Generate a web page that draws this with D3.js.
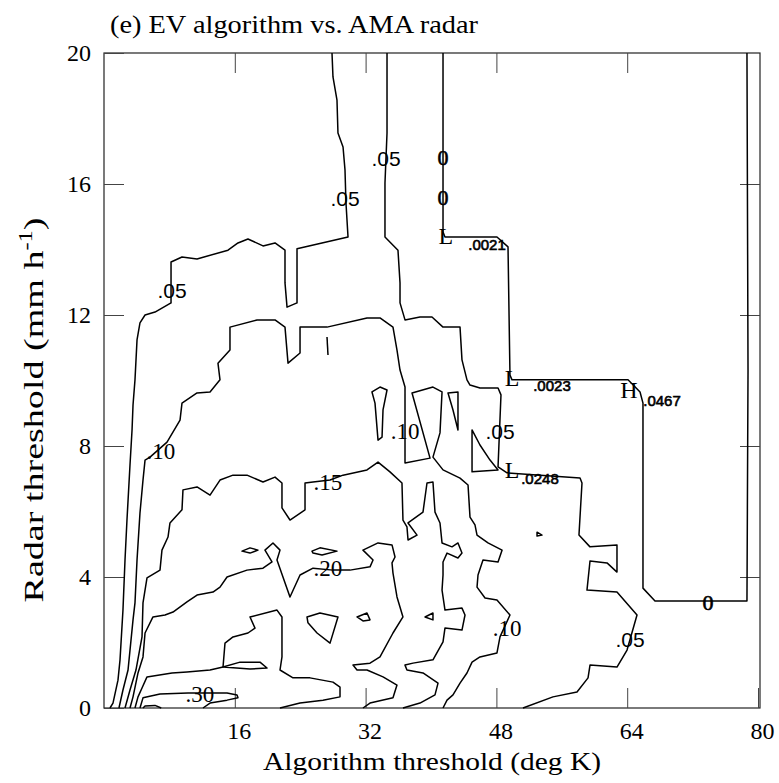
<!DOCTYPE html>
<html>
<head>
<meta charset="utf-8">
<script src="https://cdn.jsdelivr.net/npm/d3@7"></script>
<style>
  body { margin: 0; background: #fff; }
  text { fill: #000; }
  .serif { font-family: "Liberation Serif", "Times New Roman", serif; }
  .sans { font-family: "Liberation Sans", Arial, sans-serif; }
</style>
</head>
<body>
<svg id="chart" width="779" height="783"></svg>
<script>
// axis values
const xTicks = [16, 32, 48, 64, 80];
const yTicks = [0, 4, 8, 12, 16, 20];

// contour lines as [algorithm threshold, radar threshold]
const level0 = [[41.47,20],[41.47,14.53],[41.71,14.38],[48.07,14.38],[49.42,14.08],[49.66,10.17],[49.91,10.02],[64.10,10.02],[65.57,9.65],[65.93,9.31],[65.93,3.66],[67.40,3.27],[78.65,3.27],[78.78,10.32],[78.65,20]];
const level05a = [[0.73,0],[1.10,0.15],[1.71,0.85],[1.96,1.47],[2.32,2.99],[2.57,4.52],[2.81,5.74],[3.18,7.42],[3.43,8.49],[3.55,9.25],[3.79,10.02],[4.04,11.24],[4.40,11.76],[5.02,12.00],[6.24,12.09],[8.20,12.37],[8.20,13.62],[9.54,13.77],[11.38,13.71],[15.17,13.98],[16.39,14.20],[17.61,14.32],[19.45,14.11],[20.92,14.20],[22.14,13.98],[22.14,12.98],[22.39,12.24],[23.61,12.37],[23.61,14.02],[29.85,14.38],[29.60,15.42],[29.48,16.43],[29.24,17.13],[28.62,17.56],[28.50,18.56],[28.01,19.27],[27.89,20]];
const level05b = [[34.62,20],[34.62,17.56],[34.37,16.03],[34.37,14.38],[35.96,13.98],[36.21,12.98],[36.21,12.37],[36.82,11.85],[38.65,11.94],[40.12,11.94],[41.47,11.63],[43.55,11.63],[43.79,10.63],[44.40,10.02],[44.77,9.86],[45.99,9.77],[48.20,9.77],[48.56,9.56],[48.20,7.36],[49.30,7.18],[58.23,7.02],[58.47,6.87],[58.10,5.28],[59.45,4.92],[62.75,4.98],[62.75,4.15],[61.53,4.43],[59.45,4.49],[59.08,3.60],[62.75,3.54],[65.20,2.84],[63.98,1.77],[62.75,1.25],[59.45,1.31],[59.21,0.92],[57.86,0.49],[54.92,0.34],[51.25,0]];
const level10 = [[1.83,0],[2.32,0.55],[2.94,1.16],[3.55,2.69],[3.79,3.21],[4.04,4.52],[4.40,5.95],[4.77,6.96],[5.02,7.57],[5.63,7.66],[7.71,8.12],[9.30,8.79],[9.54,9.31],[11.38,9.62],[12.97,9.65],[14.19,10.02],[13.94,10.53],[15.41,10.93],[15.41,11.63],[18.72,11.85],[20.92,11.85],[22.14,11.63],[22.51,10.53],[23.98,10.84],[23.98,11.63],[27.28,11.63],[32.17,11.91],[33.76,11.91],[35.35,11.63],[35.84,10.93],[36.21,10.32],[36.82,9.80],[36.82,7.48],[39.88,7.63],[37.68,9.62],[40.24,9.80],[41.35,9.65],[41.10,8.40],[40.24,7.66],[41.47,7.27],[43.55,7.02],[44.53,6.81],[44.77,5.83],[45.38,5.59],[45.63,5.28],[46.97,5.04],[48.69,4.82],[48.20,4.46],[46.36,4.52],[45.75,4.06],[45.63,3.69],[46.61,3.36],[48.07,3.30],[49.66,2.84],[48.44,2.17],[48.07,1.68],[45.99,1.56],[45.02,1.40],[44.40,1.07],[43.55,0.76],[42.69,0.40],[41.96,0.24],[41.47,0]];
const level15 = [[2.57,0],[3.18,0.55],[3.91,1.16],[4.65,2.17],[4.77,3.21],[5.26,3.97],[6.85,4.21],[7.09,4.82],[7.83,5.22],[8.07,5.65],[9.54,6.05],[9.66,6.66],[11.38,6.75],[12.97,6.50],[14.19,6.96],[15.78,7.11],[17.49,7.11],[19.45,6.90],[20.92,7.05],[21.77,6.87],[21.77,6.11],[22.75,5.74],[24.59,6.05],[24.59,6.87],[25.57,6.90],[27.65,6.96],[29.24,7.11],[32.17,7.27],[33.52,7.51],[34.98,7.21],[36.45,6.87],[36.57,5.74],[37.06,5.53],[37.19,5.13],[38.29,5.28],[37.19,5.65],[39.02,5.98],[39.51,6.87],[40.24,6.90],[40.49,5.98],[41.10,5.65],[41.35,5.04],[42.57,4.92],[43.30,5.04],[43.79,4.73],[43.30,4.58],[41.96,4.73],[41.47,4.46],[41.47,4.06],[41.35,3.60],[41.71,2.99],[43.79,3.05],[44.16,2.84],[43.79,2.38],[41.71,2.44],[41.47,2.02],[40.24,1.47],[37.80,1.37],[36.82,1.31],[37.06,1.16],[39.02,1.07],[40.86,0.76],[40.49,0.40],[38.65,0.15],[36.57,0]];
const level20 = [[3.18,0],[3.55,0.34],[4.16,1.07],[4.77,1.56],[5.02,2.29],[5.99,2.78],[7.46,2.84],[8.44,2.93],[10.15,3.24],[11.38,3.45],[13.33,3.54],[14.19,3.69],[15.05,4.00],[17.49,4.21],[19.45,4.27],[20.55,4.46],[19.69,4.82],[20.67,5.04],[21.53,4.82],[21.16,4.52],[22.75,3.39],[23.98,4.06],[25.57,4.27],[28.01,4.21],[30.09,4.21],[32.54,4.31],[32.91,4.52],[31.68,4.82],[33.52,5.04],[35.23,4.98],[35.60,4.61],[35.23,4.43],[35.35,4.12],[35.84,3.39],[36.57,2.78],[35.35,2.29],[33.76,1.56],[32.54,1.37],[30.46,1.31],[30.95,1.16],[32.17,1.16],[34.13,0.95],[35.84,0.70],[35.35,0.31],[32.54,0.15],[31.68,0]];
const level25 = [[3.79,0],[4.16,0.34],[4.65,0.61],[5.26,0.95],[8.32,1.07],[10.15,1.10],[12.97,1.16],[14.56,1.25],[14.80,1.98],[15.78,2.17],[17.61,2.29],[18.47,2.44],[17.86,2.78],[21.16,2.99],[21.77,2.78],[21.77,1.56],[21.53,1.16],[23.12,0.92],[25.20,0.92],[28.01,0.79],[28.87,0.64],[28.87,0.34],[26.79,0.24],[23.98,0.15],[21.53,0]];
const level30 = [[4.40,0],[4.77,0.31],[6.85,0.43],[10.28,0.46],[13.33,0.46],[15.05,0.46],[16.27,0.40],[16.39,0.31],[15.05,0.24],[12.97,0.15],[12.11,0]];
const level35 = [[4.77,0],[5.02,0.06],[6.24,0.08],[7.00,0]];
const tickMark = [[27.28,11.33],[27.40,10.78]];

// small closed contours
const triangle05 = [[45.02,8.49],[45.99,8.03],[47.22,7.57],[48.20,7.27],[45.02,7.21]];
const lens25 = [[14.56,1.25],[16.64,1.40],[19.08,1.40],[19.94,1.22],[17.86,1.19]];
const island1 = [[16.88,4.79],[17.86,4.89],[18.84,4.82],[17.86,4.73]];
const island2 = [[25.44,4.79],[26.42,4.89],[28.50,4.79],[26.67,4.67],[25.57,4.73]];
const island3 = [[24.83,2.78],[26.42,2.90],[28.62,2.78],[27.65,1.98],[26.06,2.29],[24.95,2.60]];
const island4 = [[30.95,2.78],[32.17,2.90],[32.54,2.69],[31.68,2.66]];
const island5 = [[39.27,2.78],[40.24,2.90],[40.24,2.69]];
const island6 = [[32.78,9.65],[33.76,9.80],[34.62,9.71],[34.13,9.10],[34.01,8.27],[33.52,8.18],[33.15,9.31]];
const island7 = [[42.08,9.62],[43.30,9.65],[43.30,8.49],[42.69,9.10]];
const island8 = [[52.97,5.37],[53.58,5.28],[52.97,5.25]];

// contour labels [x, y, text]
const sansLabels = [[34.50,16.79,".05"],[29.48,15.57,".05"],[8.32,12.76,".05"],[48.44,8.43,".05"],[64.34,2.08,".05"]];
const serifLabels = [[6.97,7.82,".10"],[36.82,8.43,".10"],[49.30,2.44,".10"],[27.40,6.90,".15"],[27.40,4.27,".20"],[11.74,0.40,".30"]];
const zeroLabels = [[41.47,16.82,"0"],[41.47,15.60,"0"],[73.88,3.21,"0"]];
const extremaLetters = [[41.83,14.41,"L"],[49.91,10.08,"L"],[64.22,9.71,"H"],[49.91,7.27,"L"]];
const extremaValues = [[46.85,14.14,".0021"],[54.80,9.86,".0023"],[68.26,9.40,".0467"],[53.33,7.02,".0248"]];

const openLines = [level0, level05a, level05b, level10, level15, level20, level25, level30, level35, tickMark];
const closedLines = [triangle05, lens25, island1, island2, island3, island4, island5, island6, island7, island8];

const svg = d3.select("#chart");

const x = d3.scaleLinear().domain([0, 80]).range([104, 758]);
const y = d3.scaleLinear().domain([0, 20]).range([708, 53]);

// title
svg.append("text")
    .attr("class", "serif")
    .attr("x", 110)
    .attr("y", 33)
    .attr("font-size", 25)
    .attr("textLength", 368)
    .attr("lengthAdjust", "spacingAndGlyphs")
    .text("(e) EV algorithm vs. AMA radar");

// frame
svg.append("rect")
    .attr("x", 104).attr("y", 53)
    .attr("width", 656).attr("height", 655)
    .attr("fill", "none")
    .attr("stroke", "#222")
    .attr("stroke-width", 1.2);

// axes with inward ticks
const styleAxis = g => {
    g.select(".domain").remove();
    g.selectAll(".tick line").attr("stroke", "#444").attr("stroke-width", 1);
    g.selectAll(".tick text")
        .attr("class", "serif")
        .attr("font-size", 24);
};

svg.append("g")
    .attr("transform", "translate(0,708)")
    .call(d3.axisBottom(x).tickValues(xTicks).tickSize(-20).tickPadding(14).tickFormat(d3.format("d")))
    .call(styleAxis)
    .selectAll(".tick text").attr("dx", 4);

svg.append("g")
    .attr("transform", "translate(0,53)")
    .call(d3.axisTop(x).tickValues(xTicks.slice(0, 4)).tickSize(-20).tickFormat(""))
    .call(styleAxis);

svg.append("g")
    .attr("transform", "translate(104,0)")
    .call(d3.axisLeft(y).tickValues(yTicks).tickSize(-20).tickPadding(13).tickFormat(d3.format("d")))
    .call(styleAxis);

svg.append("g")
    .attr("transform", "translate(760,0)")
    .call(d3.axisRight(y).tickValues(yTicks.slice(1, 5)).tickSize(-20).tickFormat(""))
    .call(styleAxis);

// axis titles
svg.append("text")
    .attr("class", "serif")
    .attr("x", 432)
    .attr("y", 770)
    .attr("text-anchor", "middle")
    .attr("font-size", 26)
    .attr("textLength", 338)
    .attr("lengthAdjust", "spacingAndGlyphs")
    .text("Algorithm threshold (deg K)");

const yTitle = svg.append("text")
    .attr("class", "serif")
    .attr("transform", "translate(43,410) rotate(-90)")
    .attr("text-anchor", "middle")
    .attr("font-size", 28)
    .attr("textLength", 385)
    .attr("lengthAdjust", "spacingAndGlyphs");
yTitle.append("tspan").text("Radar threshold (mm h");
yTitle.append("tspan").attr("font-size", 18).attr("dy", -11).text("-1");
yTitle.append("tspan").attr("dy", 11).text(")");

// contour lines
const line = d3.line().x(d => x(d[0])).y(d => y(d[1]));
const closed = d3.line().x(d => x(d[0])).y(d => y(d[1])).curve(d3.curveLinearClosed);

const contours = svg.append("g")
    .attr("fill", "none")
    .attr("stroke", "#000")
    .attr("stroke-width", 1.5)
    .attr("stroke-linejoin", "round");

contours.selectAll("path.open")
    .data(openLines)
    .join("path")
    .attr("class", "open")
    .attr("d", line);

contours.selectAll("path.closed")
    .data(closedLines)
    .join("path")
    .attr("class", "closed")
    .attr("d", closed);

// labels
const addLabels = (data, cls, size, thick) => {
    svg.append("g").selectAll("text")
        .data(data)
        .join("text")
        .attr("class", cls)
        .attr("x", d => x(d[0]))
        .attr("y", d => y(d[1]))
        .attr("text-anchor", "middle")
        .attr("dominant-baseline", "central")
        .attr("font-size", size)
        .attr("stroke", thick ? "#000" : "none")
        .attr("stroke-width", thick ? 0.6 : 0)
        .text(d => d[2]);
};

addLabels(sansLabels, "sans", 21, false);
addLabels(serifLabels, "serif", 23, false);
addLabels(zeroLabels, "serif", 22, true);
addLabels(extremaLetters, "serif", 24, false);
addLabels(extremaValues, "sans", 15, true);
</script>
</body>
</html>
